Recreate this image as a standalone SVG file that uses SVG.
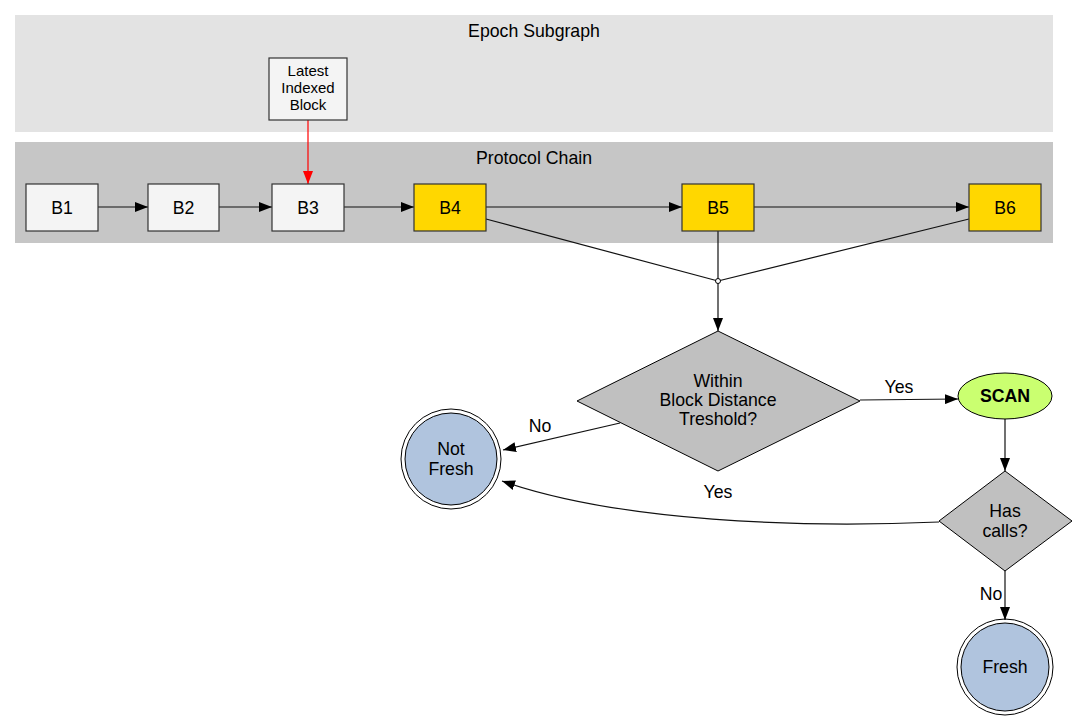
<svg xmlns="http://www.w3.org/2000/svg" width="1077" height="724" viewBox="0 0 1077 724">
<style>
text{font-family:"Liberation Sans",Arial,Helvetica,sans-serif;font-size:17.7px;fill:#000;text-anchor:middle}
.box{fill:#f4f4f4;stroke:#333;stroke-width:1.2}
.gold{fill:#ffd700;stroke:#333;stroke-width:1.2}
.dia{fill:#c0c0c0;stroke:#000;stroke-width:1}
.state{fill:#b0c4de;stroke:#000;stroke-width:1}
.ring{fill:none;stroke:#000;stroke-width:1}
.e{fill:none;stroke:#111;stroke-width:1.2}
.small{font-size:15px}
</style>
<defs>
<marker id="ah" markerWidth="13" markerHeight="10" refX="13" refY="5" orient="auto" markerUnits="userSpaceOnUse"><path d="M0,0 L13,5 L0,10 z" fill="#000"/></marker>
<marker id="ahr" markerWidth="13" markerHeight="10" refX="13" refY="5" orient="auto" markerUnits="userSpaceOnUse"><path d="M0,0 L13,5 L0,10 z" fill="#f00"/></marker>
</defs>
<rect width="1077" height="724" fill="#fff"/>
<g id="cluster_epoch">
<rect x="15" y="15" width="1038" height="117" fill="#e3e3e3"/>
<text x="534" y="36.5">Epoch Subgraph</text>
</g>
<g id="cluster_chain">
<rect x="15" y="142" width="1038" height="101" fill="#c6c6c6"/>
<text x="534" y="163.5">Protocol Chain</text>
</g>
<g id="edges">
<path class="e" d="M308,120 L308,184" style="stroke:#f00" marker-end="url(#ahr)"/>
<path class="e" d="M98,207 L148,207" marker-end="url(#ah)"/>
<path class="e" d="M219,207 L272,207" marker-end="url(#ah)"/>
<path class="e" d="M344,207 L414,207" marker-end="url(#ah)"/>
<path class="e" d="M486,207 L682,207" marker-end="url(#ah)"/>
<path class="e" d="M754,207 L969,207" marker-end="url(#ah)"/>
<path class="e" d="M486,219 L718,281"/>
<path class="e" d="M718,231 L718,281"/>
<path class="e" d="M969,219 L718,281"/>
<path class="e" d="M718,281 L718,331" marker-end="url(#ah)"/>
<circle cx="718" cy="281" r="2.5" fill="#fff" stroke="#000" stroke-width="1"/>
<path class="e" d="M860,400 L958,399" marker-end="url(#ah)"/>
<text x="899" y="393">Yes</text>
<path class="e" d="M1005,419 L1005,471" marker-end="url(#ah)"/>
<path class="e" d="M620,423 L503,450" marker-end="url(#ah)"/>
<text x="540" y="432">No</text>
<path class="e" d="M939,522 C800,528 620,522 502,481" marker-end="url(#ah)"/>
<text x="718" y="498">Yes</text>
<path class="e" d="M1005,571 L1005,620" marker-end="url(#ah)"/>
<text x="991" y="600">No</text>
</g>
<g id="latest">
<rect class="box" x="269" y="58" width="78" height="62"/>
<text class="small" x="308" y="76">Latest</text>
<text class="small" x="308" y="93">Indexed</text>
<text class="small" x="308" y="110">Block</text>
</g>
<g id="B1"><rect class="box" x="26" y="184" width="72" height="47"/><text x="62" y="213.5">B1</text></g>
<g id="B2"><rect class="box" x="148" y="184" width="71" height="47"/><text x="183.5" y="213.5">B2</text></g>
<g id="B3"><rect class="box" x="272" y="184" width="72" height="47"/><text x="308" y="213.5">B3</text></g>
<g id="B4"><rect class="gold" x="414" y="184" width="72" height="47"/><text x="450" y="213.5">B4</text></g>
<g id="B5"><rect class="gold" x="682" y="184" width="72" height="47"/><text x="718" y="213.5">B5</text></g>
<g id="B6"><rect class="gold" x="969" y="184" width="72" height="47"/><text x="1005" y="213.5">B6</text></g>
<g id="within">
<polygon class="dia" points="718,331 860,401 718,471 577,401"/>
<text x="718" y="386.5">Within</text>
<text x="718" y="405.5">Block Distance</text>
<text x="718" y="425">Treshold?</text>
</g>
<g id="scan">
<ellipse cx="1005" cy="396" rx="47" ry="23" fill="#caff70" stroke="#000" stroke-width="1"/>
<text x="1005" y="402" font-weight="bold">SCAN</text>
</g>
<g id="hascalls">
<polygon class="dia" points="1005,471 1072,521 1005,571 939,521"/>
<text x="1005" y="517">Has</text>
<text x="1005" y="537">calls?</text>
</g>
<g id="notfresh">
<circle class="ring" cx="451" cy="459" r="50"/>
<circle class="state" cx="451" cy="459" r="46"/>
<text x="451" y="455">Not</text>
<text x="451" y="475">Fresh</text>
</g>
<g id="fresh">
<circle class="ring" cx="1005" cy="667" r="48"/>
<circle class="state" cx="1005" cy="667" r="44"/>
<text x="1005" y="673">Fresh</text>
</g>
</svg>
